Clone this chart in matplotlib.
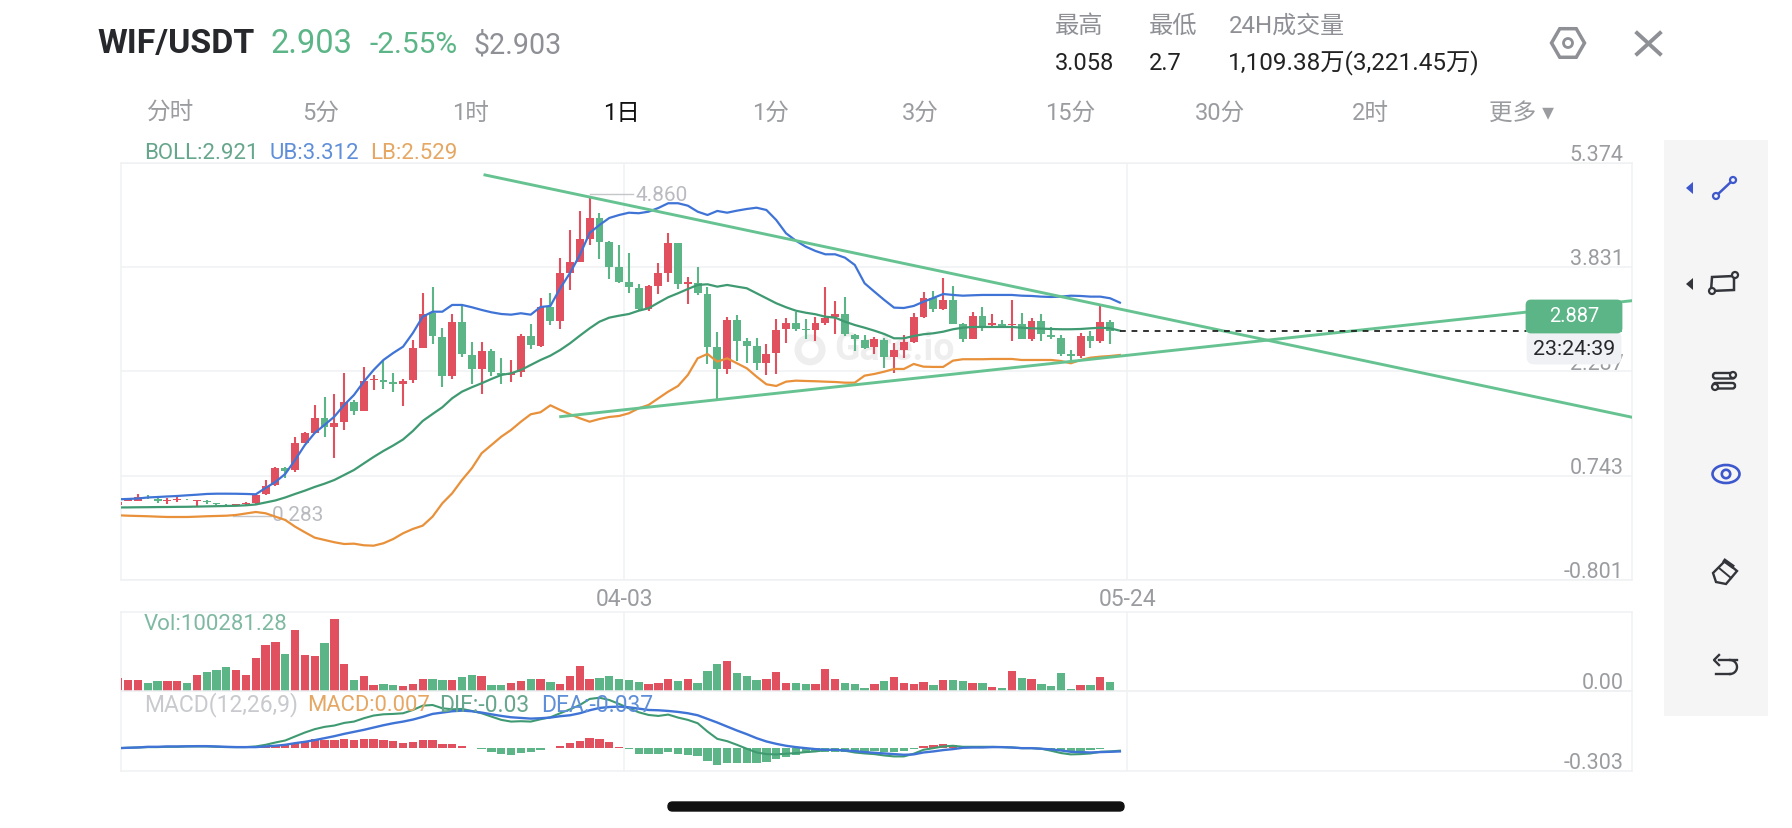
import matplotlib
matplotlib.use('Agg')
import matplotlib.pyplot as plt
from matplotlib.patches import Rectangle, FancyBboxPatch, Circle, Polygon, Ellipse, RegularPolygon
from matplotlib.transforms import ScaledTranslation
import numpy as np

plt.rcParams['font.family'] = ['Roboto', 'Noto Sans CJK SC', 'DejaVu Sans']

W, H = 1792, 828
opens = [.31,.37,.37,.43,.40,.37,.39,.39,.365,.37,.335,.315,.30,.325,.335,.468,.606,.863,.828,1.233,1.381,1.594,1.47,1.544,1.83,1.702,2.157,2.161,2.127,2.098,2.161,2.64,3.15,2.80,2.22,3.025,2.536,2.32,2.595,2.27,2.23,2.28,2.81,2.67,3.238,3.04,3.741,3.913,4.249,4.555,4.208,3.83,3.608,3.528,3.208,3.558,3.75,4.185,3.578,3.602,3.435,2.645,2.32,3.05,2.74,2.665,2.413,2.56,2.91,3.01,2.91,2.90,3.0,3.1,3.134,2.828,2.753,2.645,2.753,2.497,2.605,2.72,3.1,3.37,3.208,3.346,2.99,2.768,3.11,2.968,2.99,2.97,2.986,2.768,3.035,2.828,2.78,2.546,2.517,2.81,2.74,3.025]
closes = [.35,.40,.43,.42,.37,.39,.40,.38,.384,.35,.325,.305,.33,.34,.458,.591,.863,.818,1.224,1.372,1.594,1.47,1.53,1.83,1.707,2.146,2.176,2.136,2.10,2.15,2.63,3.139,2.81,2.22,3.025,2.546,2.32,2.59,2.284,2.23,2.27,2.81,2.68,3.238,3.04,3.741,3.908,4.244,4.56,4.208,3.84,3.617,3.534,3.208,3.553,3.741,4.185,3.578,3.608,3.445,2.655,2.32,3.05,2.74,2.67,2.418,2.55,2.902,3.0,2.91,2.90,3.0,3.084,3.134,2.838,2.764,2.64,2.764,2.497,2.60,2.72,3.1,3.37,3.208,3.346,2.99,2.768,3.11,2.961,3.0,2.95,2.99,2.768,3.04,2.838,2.794,2.546,2.517,2.81,2.743,3.025,2.887]
highs = [.36,.40,.47,.46,.41,.42,.43,.40,.385,.39,.34,.325,.33,.355,.473,.68,.873,.873,1.32,1.387,1.79,1.914,1.95,2.27,1.865,2.358,2.235,2.457,2.27,2.176,2.753,3.445,3.543,2.93,3.134,3.272,2.73,2.73,2.615,2.48,2.457,2.84,2.986,3.37,3.445,3.963,4.382,4.663,4.86,4.63,4.223,4.16,4.037,3.583,3.568,3.89,4.333,4.195,3.69,3.84,3.543,2.868,3.09,3.124,2.78,2.78,2.70,3.06,3.075,3.164,3.06,3.09,3.543,3.336,3.386,2.84,2.828,2.80,2.78,2.705,2.828,3.15,3.469,3.484,3.667,3.558,3.01,3.164,3.238,3.139,3.05,3.346,3.15,3.075,3.134,2.94,2.828,2.605,2.853,2.887,3.272,3.05]
lows = [.29,.37,.37,.40,.34,.33,.36,.38,.30,.32,.31,.283,.295,.31,.325,.458,.591,.71,.80,1.228,1.372,1.322,1.00,1.42,1.643,1.702,2.013,2.024,1.99,1.78,2.12,2.63,2.69,2.054,2.17,2.497,2.10,1.95,2.22,2.10,2.13,2.21,2.62,2.655,2.976,2.912,3.50,3.913,4.16,3.948,3.652,3.593,3.454,3.187,3.187,3.435,3.617,3.513,3.282,3.42,2.398,1.875,2.246,2.447,2.41,2.31,2.235,2.246,2.714,2.887,2.764,2.74,2.976,2.84,2.817,2.595,2.62,2.546,2.335,2.26,2.49,2.705,3.075,3.164,3.198,2.986,2.73,2.768,2.89,2.95,2.926,2.743,2.764,2.74,2.74,2.768,2.517,2.447,2.483,2.64,2.714,2.69]

boll_ub = [.394,.399,.406,.421,.428,.436,.443,.453,.462,.473,.477,.477,.476,.473,.468,.562,.651,.769,.976,1.198,1.376,1.495,1.618,1.791,1.939,2.136,2.309,2.457,2.561,2.654,2.857,3.098,3.172,3.172,3.272,3.272,3.238,3.198,3.163,3.138,3.128,3.149,3.128,3.242,3.257,3.519,3.745,4.012,4.338,4.456,4.56,4.604,4.638,4.63,4.653,4.708,4.778,4.778,4.742,4.653,4.604,4.664,4.638,4.668,4.693,4.712,4.678,4.53,4.333,4.224,4.135,4.071,4.022,4.022,3.972,3.864,3.593,3.468,3.346,3.232,3.227,3.257,3.32,3.375,3.434,3.42,3.409,3.415,3.42,3.42,3.42,3.42,3.409,3.405,3.395,3.39,3.395,3.409,3.405,3.395,3.395,3.371,3.306]
boll_lb = [.157,.151,.147,.143,.137,.132,.132,.132,.137,.143,.147,.151,.162,.184,.206,.187,.137,.088,-.011,-.094,-.174,-.208,-.242,-.268,-.263,-.287,-.293,-.257,-.194,-.109,-.045,.004,.137,.335,.483,.680,.853,1.076,1.198,1.321,1.421,1.543,1.653,1.683,1.786,1.717,1.653,1.594,1.543,1.583,1.613,1.628,1.668,1.742,1.791,1.89,1.988,2.072,2.235,2.482,2.546,2.432,2.482,2.408,2.334,2.21,2.097,2.072,2.136,2.151,2.146,2.142,2.136,2.131,2.121,2.121,2.225,2.25,2.284,2.324,2.324,2.398,2.358,2.354,2.354,2.447,2.468,2.468,2.468,2.472,2.472,2.472,2.457,2.457,2.457,2.457,2.442,2.408,2.457,2.491,2.506,2.516,2.531]
boll_mid = [.273,.274,.276,.277,.279,.280,.282,.283,.286,.289,.292,.295,.298,.305,.317,.347,.377,.421,.473,.522,.577,.625,.680,.754,.828,.925,1.021,1.110,1.191,1.280,1.406,1.554,1.657,1.757,1.89,1.988,2.053,2.112,2.176,2.235,2.260,2.309,2.383,2.457,2.521,2.605,2.704,2.817,2.926,3.024,3.084,3.113,3.138,3.187,3.223,3.306,3.386,3.445,3.508,3.568,3.578,3.543,3.568,3.543,3.519,3.445,3.371,3.297,3.238,3.187,3.157,3.134,3.098,3.084,3.024,2.975,2.935,2.891,2.842,2.778,2.778,2.812,2.838,2.852,2.876,2.912,2.935,2.946,2.946,2.946,2.946,2.946,2.935,2.926,2.921,2.916,2.912,2.912,2.916,2.926,2.935,2.926,2.891]

volume_k = [154,127,127,96,112,116,116,89,185,219,246,273,239,185,377,527,562,427,701,416,408,551,828,312,131,173,65,77,65,58,81,135,139,127,127,162,181,177,69,69,89,112,142,135,104,81,177,285,135,146,173,135,127,104,81,92,142,112,135,89,235,312,347,208,169,131,135,216,92,89,85,85,258,142,92,81,35,85,112,162,92,85,104,69,123,131,116,89,96,46,31,231,150,139,81,54,208,27,69,69,158,100]

macd_dea = [.004,.009,.013,.022,.022,.027,.027,.029,.031,.031,.027,.022,.018,.018,.018,.027,.036,.049,.071,.089,.112,.138,.165,.196,.223,.250,.281,.312,.339,.361,.388,.424,.464,.482,.500,.508,.500,.482,.459,.437,.419,.410,.401,.406,.415,.433,.446,.473,.513,.544,.557,.562,.553,.535,.517,.513,.504,.491,.473,.446,.397,.348,.294,.241,.192,.138,.094,.062,.036,.018,.004,-.009,-.018,-.018,-.027,-.036,-.049,-.058,-.067,-.076,-.085,-.080,-.054,-.040,-.022,-.009,.009,.013,.013,.018,.018,.013,.004,.004,-.004,-.013,-.027,-.045,-.049,-.054,-.049,-.045,-.040]
macd_dif = [.004,.009,.013,.018,.018,.022,.022,.027,.027,.027,.022,.018,.018,.018,.027,.049,.080,.107,.161,.214,.259,.290,.308,.343,.361,.406,.442,.459,.464,.473,.517,.575,.584,.540,.526,.531,.504,.473,.428,.384,.361,.366,.361,.392,.419,.473,.526,.584,.665,.682,.651,.598,.540,.486,.450,.437,.455,.415,.384,.339,.227,.129,.098,.049,-.004,-.054,-.076,-.080,-.071,-.062,-.049,-.040,-.022,-.018,-.031,-.054,-.067,-.076,-.094,-.107,-.107,-.071,-.018,.004,.027,.036,.022,.022,.022,.022,.018,.013,.004,.004,-.004,-.031,-.062,-.080,-.076,-.067,-.045,-.040,-.030]
macd_hist = [.002,.003,.004,.004,.003,.003,.002,.002,.002,.002,.002,.002,.002,.002,.02,.027,.040,.049,.071,.094,.125,.116,.116,.125,.112,.125,.125,.112,.094,.076,.089,.120,.112,.054,.062,.031,.001,-.009,-.049,-.076,-.094,-.062,-.054,-.018,.002,.036,.071,.103,.143,.125,.080,.022,-.004,-.071,-.080,-.080,-.054,-.071,-.089,-.107,-.169,-.223,-.201,-.201,-.201,-.201,-.187,-.147,-.112,-.089,-.067,-.054,-.045,-.049,-.049,-.049,-.045,-.040,-.049,-.049,-.040,-.004,.036,.045,.058,.049,.013,.004,.004,.004,.001,.001,.001,.001,-.004,-.018,-.036,-.049,-.036,-.027,-.004,.004]

# drawn trend lines: (candle index, price)
trend_down_x = [37.34, 154.15]
trend_down_y = [5.197, 1.609]
trend_up_x = [45.05, 154.15]
trend_up_y = [1.618, 3.335]

price_ticks = [5.374, 3.831, 2.287, 0.743, -0.801]
date_ticks = [51.5, 102.77]
date_labels = ['04-03', '05-24']
last_price = 2.887
peak_price = 4.860
trough_price = 0.283

GREEN = '#5CB587'
RED = '#E0505E'
LINE_GREEN = '#3F9A72'
LINE_BLUE = '#3F74D6'
LINE_ORANGE = '#E8913A'
TREND = '#66C391'
GRID = '#F0F1F3'
AXTXT = '#9A9CA0'

fig = plt.figure(figsize=((W+0.01)/100, (H+0.01)/100), dpi=100, facecolor='white')

def add_ax(l, t, r, b):
    return fig.add_axes([l/W, 1-b/H, (r-l)/W, (b-t)/H])

XLIM = (0.275, 154.15)
ax = add_ax(121, 163, 1632, 580)
axv = add_ax(121, 612, 1632, 691)
axm = add_ax(121, 691, 1632, 771)

for a in (ax, axv, axm):
    a.set_xlim(*XLIM)
    a.set_facecolor('none')
    for s in a.spines.values():
        s.set_color(GRID)
        s.set_linewidth(1.1)
    a.set_xticks(date_ticks)
    a.grid(True, axis='x', color=GRID, lw=1.1, zorder=0)
    a.tick_params(length=0)
    a.set_axisbelow(True)

idx = np.arange(len(closes))
o, c, hi, lo = map(np.array, (opens, closes, highs, lows))
colors = np.where(c >= o, RED, GREEN)

# main panel
ax.set_ylim(price_ticks[-1], price_ticks[0])
ax.set_yticks(price_ticks)
ax.grid(True, axis='y', color=GRID, lw=1.1, zorder=0)
ax.text(0.512, 0.552, 'Gate.io', transform=ax.transAxes, color='#EEEEEF', fontsize=27, fontweight='bold',
        ha='center', va='center', zorder=0.5)
ax.scatter([0.456], [0.552], s=300, transform=ax.transAxes, facecolor='none', edgecolor='#EEEEEF', linewidth=5, zorder=0.5)
ax.vlines(idx, lo, hi, colors=colors, lw=1.5, zorder=2)
ax.bar(idx, np.abs(c-o), bottom=np.minimum(o, c), width=0.8, color=colors, zorder=3)
ax.plot(np.arange(len(boll_mid)), boll_mid, color=LINE_GREEN, lw=1.6, zorder=4)
ax.plot(np.arange(len(boll_ub)), boll_ub, color=LINE_BLUE, lw=1.6, zorder=4)
ax.plot(np.arange(len(boll_lb)), boll_lb, color=LINE_ORANGE, lw=1.6, zorder=4)
ax.plot(trend_down_x, trend_down_y, color=TREND, lw=2.1, zorder=5)
ax.plot(trend_up_x, trend_up_y, color=TREND, lw=2.1, zorder=5)
ax.plot([102.02, 143.35], [last_price, last_price], color='#222222', lw=1.3, dashes=(3.2, 3.2), zorder=6)
# extreme markers
ax.plot([48, 52.4], [4.91, 4.91], color='#C4C6CA', lw=1.0, zorder=5)
ax.text(52.7, 4.90, f'{peak_price:.3f}', color='#B9BBC0', fontsize=15, va='center', ha='left', zorder=6)
ax.plot([11.7, 15.5], [0.152, 0.152], color='#C4C6CA', lw=1.0, zorder=3)
ax.text(15.65, 0.148, f'{trough_price:.3f}', color='#B9BBC0', fontsize=15, va='center', ha='left', zorder=3)

# tick labels
ax.set_xticklabels(date_labels, color=AXTXT, fontsize=16.5)
ax.tick_params(axis='x', pad=5.5)
shift_down = ScaledTranslation(0, -2.2/72, fig.dpi_scale_trans)
for a, tk, lb in ((ax, price_ticks, [f'{t:.3f}' for t in price_ticks]), (axv, [0], ['0.00']), (axm, [-0.303], ['-0.303'])):
    a.set_yticks(tk)
    a.set_yticklabels(lb)
    a.tick_params(axis='y', left=False, right=False, labelleft=False, labelright=True, pad=-6,
                  labelcolor=AXTXT, labelsize=15.5)
    for t in a.get_yticklabels():
        t.set_ha('right')
        t.set_va('bottom')
        t.set_clip_on(False)
        t.set_transform(t.get_transform() + shift_down)
axv.set_xticklabels([])
axm.set_xticklabels([])
axv.grid(False, axis='y')
axm.grid(False, axis='y')

# volume
axv.set_ylim(0, 912)
axv.bar(idx, volume_k, width=0.85, color=colors, zorder=3)

# MACD
axm.set_ylim(-0.303, 0.772)
h = np.array(macd_hist)
axm.bar(idx, h, width=0.85, color=np.where(h >= 0, RED, GREEN), zorder=2)
axm.plot(np.arange(len(macd_dif)), macd_dif, color=LINE_GREEN, lw=1.5, zorder=3)
axm.plot(np.arange(len(macd_dea)), macd_dea, color=LINE_BLUE, lw=1.7, zorder=4)

# user-interface overlay in pixels
ui = fig.add_axes([0, 0, 1, 1], facecolor='none')
ui.set_xlim(0, W)
ui.set_ylim(H, 0)
ui.axis('off')

def T(x, y, s, color, size, ha='left', **kw):
    ui.text(x, y, s, color=color, fontsize=size, ha=ha, va='center', **kw)

T(97, 44, 'WIF/USDT', '#26282C', 24.5, fontweight='bold')
T(270, 44, '2.903', '#5CB587', 23.5)
T(369, 45, '-2.55%', '#5CB587', 21.5)
T(473, 45, '$2.903', '#8E9096', 20.6)

tabs = ['分时', '5分', '1时', '1日', '1分', '3分', '15分', '30分', '2时', '更多 ▾']
tab_x = [171, 321, 470, 621, 770, 920, 1070, 1220, 1370, 1521]
for s, x in zip(tabs, tab_x):
    T(x, 113, s, '#111111' if s == '1日' else '#9A9CA0', 17, ha='center')

T(1055, 26, '最高', '#8E9096', 17.5)
T(1149, 26, '最低', '#8E9096', 17.5)
T(1229, 26, '24H成交量', '#8E9096', 17.3)
T(1055, 63, '3.058', '#222222', 17)
T(1149, 63, '2.7', '#222222', 17)
T(1228, 63, '1,109.38万(3,221.45万)', '#222222', 17.5)

# legends
T(144, 153, 'BOLL:2.921', '#66A68C', 16)
T(269, 153, 'UB:3.312', '#5F8FD8', 16)
T(370, 153, 'LB:2.529', '#E5A763', 16)
T(144, 624, 'Vol:100281.28', '#7FB9A2', 16)
T(144, 705, 'MACD(12,26,9)', '#C8CACE', 16.5)
T(307, 705, 'MACD:0.007', '#E5A763', 15.8)
T(439, 705, 'DIF:-0.03', '#66A68C', 16.5)
T(541, 705, 'DEA:-0.037', '#5F8FD8', 16.5)

# price tag
ui.add_patch(FancyBboxPatch((1528, 332), 92, 31, boxstyle='round,pad=0,rounding_size=6', fc='#EFF1F5', ec='#EFF1F5', lw=2, zorder=8))
ui.add_patch(FancyBboxPatch((1527, 301), 94, 31, boxstyle='round,pad=0,rounding_size=4', fc='#5CB587', ec='#5CB587', lw=2, zorder=8))
ui.add_patch(Rectangle((1526, 322), 96, 10, fc='#5CB587', ec='none', zorder=8))
ui.text(1574, 316, f'{last_price:.3f}', color='white', fontsize=14.5, ha='center', va='center', zorder=9)
ui.text(1574, 349, '23:24:39', color='#25272B', fontsize=15.4, ha='center', va='center', zorder=9)

# sidebar
ui.add_patch(Rectangle((1664, 140), 104, 576, fc='#F5F5F6', ec='none', zorder=1))
BLUE = '#3D57CC'
DARK = '#33353A'
def dot(x, y, col, r=3.0):
    ui.add_patch(Circle((x, y), r, fc='#F5F5F6', ec=col, lw=1.6, zorder=4))
ui.add_patch(Polygon([[1693, 182], [1693, 194], [1686, 188]], fc=BLUE, ec='none', zorder=3))
ui.plot([1716, 1733], [196, 180], color=BLUE, lw=1.8, zorder=3)
dot(1716, 196, BLUE); dot(1733, 180, BLUE)
ui.add_patch(Polygon([[1693, 278], [1693, 290], [1686, 284]], fc=DARK, ec='none', zorder=3))
ui.add_patch(Polygon([[1712, 277], [1734, 276], [1734, 290], [1711, 291]], fc='none', ec=DARK, lw=1.8, zorder=3))
dot(1712, 291, DARK); dot(1735, 275, DARK)
ui.add_patch(FancyBboxPatch((1713, 373), 22, 5.5, boxstyle='round,pad=0,rounding_size=2.5', fc='none', ec=DARK, lw=1.7, zorder=3))
ui.add_patch(FancyBboxPatch((1713, 383), 22, 5.5, boxstyle='round,pad=0,rounding_size=2.5', fc='none', ec=DARK, lw=1.7, zorder=3))
dot(1733, 375, DARK); dot(1715, 387, DARK)
ui.add_patch(Ellipse((1726, 474), 27, 18, fc='none', ec=BLUE, lw=1.9, zorder=3))
ui.add_patch(Circle((1726, 474), 4.2, fc='none', ec=BLUE, lw=1.9, zorder=3))
ui.add_patch(Polygon([[1713, 573], [1725, 561], [1737, 571], [1726, 584], [1716, 582]], fc='none', ec=DARK, lw=1.7, zorder=3))
ui.plot([1725, 1732], [561, 566], color=DARK, lw=3, zorder=3)
ui.plot([1719, 1731], [568, 578], color=DARK, lw=1.4, zorder=3)
ui.plot([1719, 1737], [660, 660], color=DARK, lw=1.7, zorder=3)
ui.plot([1719, 1714, 1719], [655, 660, 665], color=DARK, lw=1.7, zorder=3)
t = np.linspace(-np.pi/2, np.pi/2, 20)
ui.plot(1730 + 7*np.cos(t), 667 + 7*np.sin(t), color=DARK, lw=1.7, zorder=3)
ui.plot([1730, 1716], [674, 674], color=DARK, lw=1.7, zorder=3)

# header icons
ui.add_patch(RegularPolygon((1568, 43), 6, radius=16.5, orientation=np.pi/6, fc='none', ec='#8E9096', lw=2.5))
ui.add_patch(Circle((1568, 43), 4.5, fc='none', ec='#8E9096', lw=2))
ui.plot([1637, 1660], [33, 54], color='#8E9096', lw=2.8)
ui.plot([1660, 1637], [33, 54], color='#8E9096', lw=2.8)

# home indicator
ui.add_patch(FancyBboxPatch((668, 802), 456, 9, boxstyle='round,pad=0,rounding_size=4.5', fc='#111111', ec='#111111', lw=1))

fig.savefig('out.png', dpi=100)
